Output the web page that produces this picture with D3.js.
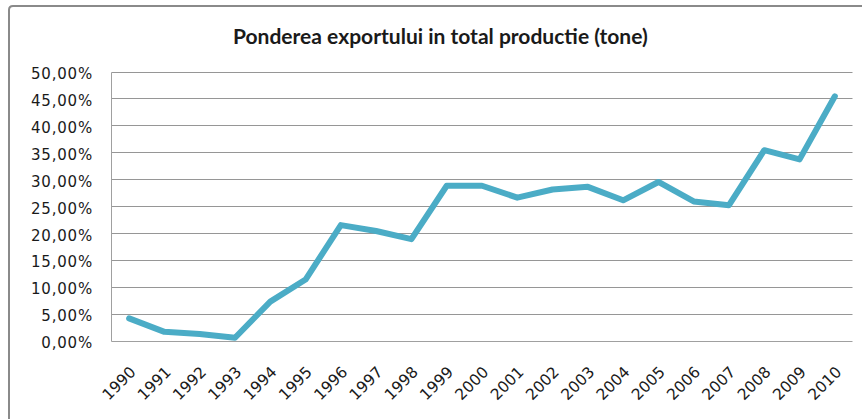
<!DOCTYPE html>
<html>
<head>
<meta charset="utf-8">
<script src="https://cdn.jsdelivr.net/npm/d3@7"></script>
<style>
  html, body { margin: 0; padding: 0; background: #ffffff; }
  svg { display: block; }
</style>
</head>
<body>
<svg id="chart" width="862" height="419"></svg>
<script>
const chartTitle = "Ponderea exportului in total productie (tone)";
const years = ["1990","1991","1992","1993","1994","1995","1996","1997","1998","1999","2000",
               "2001","2002","2003","2004","2005","2006","2007","2008","2009","2010"];
const exportShare = [0.042, 0.017, 0.013, 0.006, 0.073, 0.114, 0.215, 0.204, 0.189, 0.288, 0.288,
                     0.266, 0.281, 0.286, 0.261, 0.295, 0.259, 0.252, 0.354, 0.337, 0.454];
const yTicks = [0, 0.05, 0.10, 0.15, 0.20, 0.25, 0.30, 0.35, 0.40, 0.45, 0.50];

const svg = d3.select("#chart");
const W = 862, H = 419;
const plot = { left: 111.5, right: 852.5, top: 71.5, bottom: 341 };

// frame (chart area border, cut off at right/bottom)
svg.append("path")
  .attr("d", `M9,${H + 5} L9,10 Q9,6 13,6 L${W + 5},6`)
  .attr("fill", "none")
  .attr("stroke", "#8a8a8a")
  .attr("stroke-width", 2);

const x = d3.scalePoint().domain(years).range([plot.left, plot.right]).padding(0.5);
const y = d3.scaleLinear().domain([0, 0.5]).range([plot.bottom, plot.top]);

const fmt = v => d3.format(".2f")(v * 100).replace(".", ",") + "%";

// gridlines
svg.append("g")
  .selectAll("line")
  .data(yTicks.filter(d => d > 0))
  .join("line")
  .attr("x1", plot.left).attr("x2", plot.right)
  .attr("y1", d => Math.round(y(d)) + 0.5).attr("y2", d => Math.round(y(d)) + 0.5)
  .attr("stroke", "#969696")
  .attr("stroke-width", 1);

// axes lines (left and bottom)
svg.append("line")
  .attr("x1", plot.left).attr("x2", plot.left)
  .attr("y1", Math.round(y(0.5)) + 0.5).attr("y2", Math.round(y(0)) + 0.5)
  .attr("stroke", "#a0a0a0");
svg.append("line")
  .attr("x1", plot.left).attr("x2", plot.right)
  .attr("y1", Math.round(y(0)) + 0.5).attr("y2", Math.round(y(0)) + 0.5)
  .attr("stroke", "#a0a0a0");

// y axis labels
const yAxis = d3.axisLeft(y).tickValues(yTicks).tickFormat(fmt).tickSize(0).tickPadding(0);
const gy = svg.append("g").attr("transform", `translate(93,2)`).call(yAxis);
gy.select(".domain").remove();
gy.selectAll("text")
  .attr("font-family", "'DejaVu Sans', Verdana, sans-serif")
  .attr("font-size", 15)
  .attr("letter-spacing", 0.8)
  .attr("fill", "#1a1a1a");

// x axis labels
const xAxis = d3.axisBottom(x).tickSize(0).tickPadding(0);
const gx = svg.append("g").attr("transform", `translate(0,${plot.bottom})`).call(xAxis);
gx.select(".domain").remove();
gx.selectAll("text")
  .attr("font-family", "'DejaVu Sans', Verdana, sans-serif")
  .attr("font-size", 15.5)
  .attr("fill", "#1a1a1a")
  .attr("text-anchor", "end")
  .attr("dy", null)
  .attr("y", 0)
  .attr("transform", "translate(7,32) rotate(-45)");

// line
const line = d3.line()
  .x((d, i) => x(years[i]))
  .y(d => y(d));
svg.append("path")
  .datum(exportShare)
  .attr("d", line)
  .attr("fill", "none")
  .attr("stroke", "#4bacc6")
  .attr("stroke-width", 6)
  .attr("stroke-linejoin", "round")
  .attr("stroke-linecap", "round");

// title
const t = svg.append("text")
  .attr("x", 233)
  .attr("y", 43.5)
  .attr("font-family", "Lato, 'Open Sans', sans-serif")
  .attr("font-weight", "bold")
  .attr("font-size", 18)
  .attr("fill", "#1a1a1a")
  .text(chartTitle);
const targetW = 415;
const w0 = t.node().getComputedTextLength();
t.attr("font-size", 18 * targetW / w0);
</script>
</body>
</html>
